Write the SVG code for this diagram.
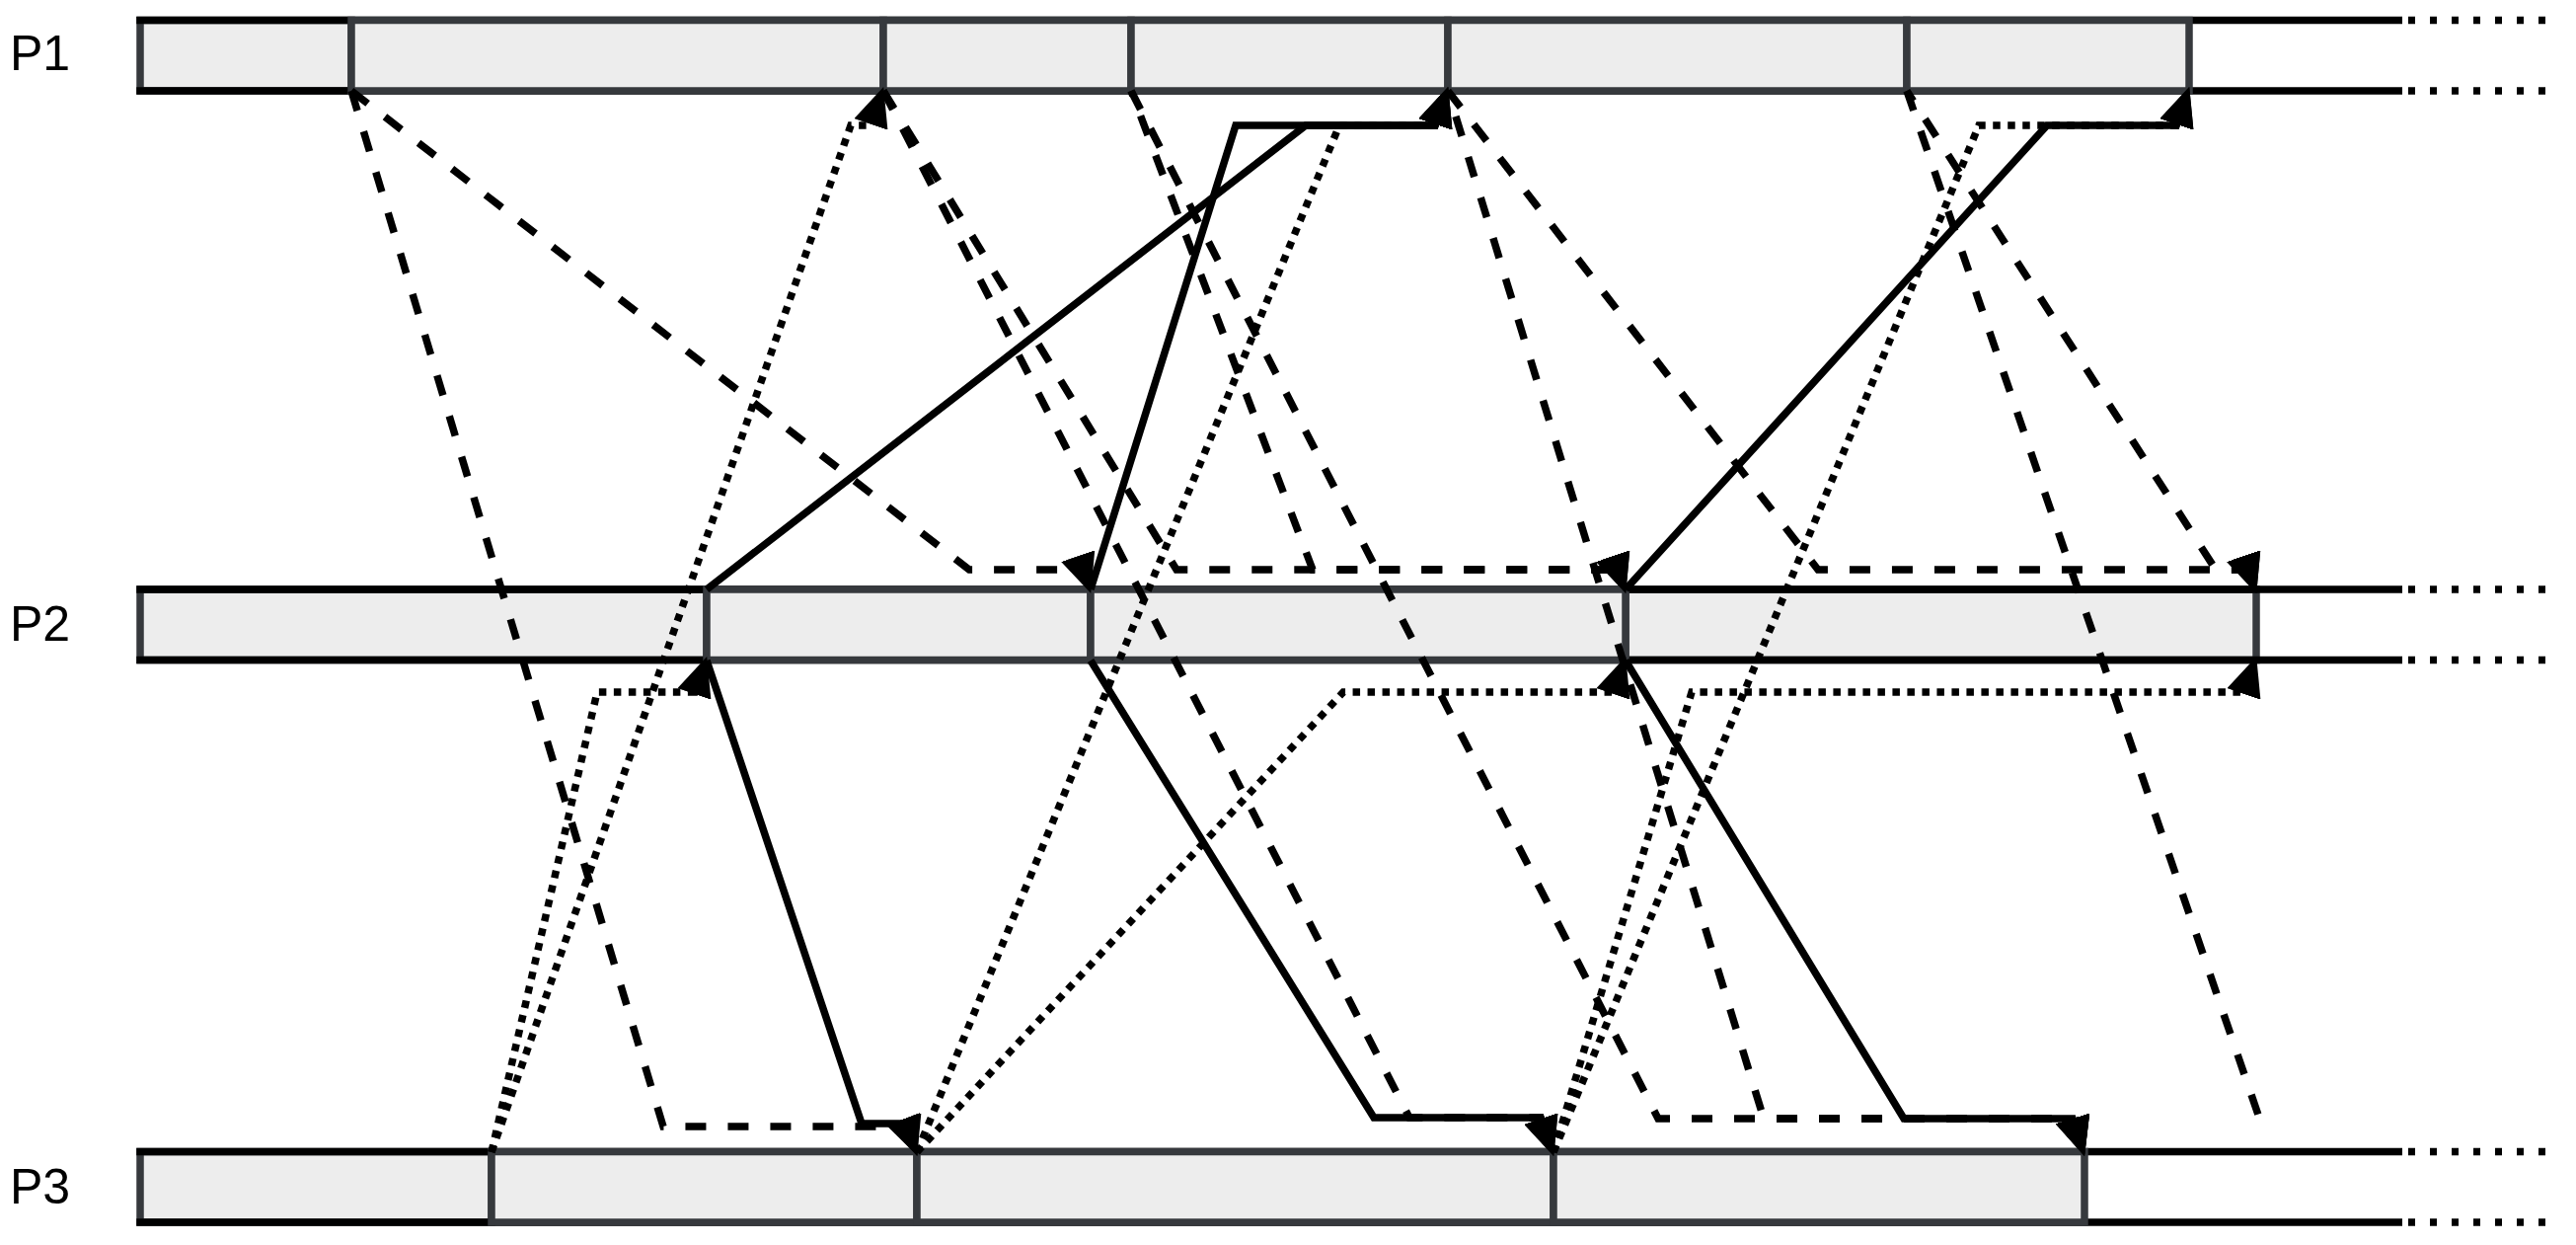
<svg xmlns="http://www.w3.org/2000/svg" width="2610" height="1261" viewBox="0 0 2610 1261">
<defs>
<style>
.lbl{font-family:"Liberation Sans",Arial,Helvetica,sans-serif;font-size:50px;fill:#000}
.box{fill:#ededed;stroke:#36393d;stroke-width:7.5}
.tl{stroke:#000;stroke-width:7.5;fill:none}
.tld{stroke:#000;stroke-width:7.5;stroke-dasharray:7 15;fill:none}
.c{fill:none;stroke:#000;stroke-width:7.5;stroke-linejoin:miter;marker-end:url(#arr)}
.nm{marker-end:none}
.dash{stroke-dasharray:21 22}
.dot{stroke-dasharray:7.5 7.5}
</style>
<marker id="arr" viewBox="0 0 40 36" markerWidth="40" markerHeight="36" refX="30" refY="18" orient="auto" markerUnits="userSpaceOnUse"><path d="M0,0 L40,18 L0,36 Z" fill="#000"/></marker>
</defs>
<rect width="2610" height="1261" fill="#fff"/>
<g id="P1">
<text class="lbl" x="10" y="71">P1</text>
<rect class="box" x="142" y="20.5" width="214" height="71.5"/>
<path class="tl" d="M138.25,20.5H2434M138.25,92H2434"/>
<path class="tld" d="M2440,20.5H2580M2440,92H2580"/>
<rect class="box" x="356" y="20.5" width="539" height="71.5"/>
<rect class="box" x="895" y="20.5" width="251" height="71.5"/>
<rect class="box" x="1146" y="20.5" width="321" height="71.5"/>
<rect class="box" x="1467" y="20.5" width="465" height="71.5"/>
<rect class="box" x="1932" y="20.5" width="286" height="71.5"/>
</g>
<g id="P2">
<text class="lbl" x="10" y="649">P2</text>
<rect class="box" x="142" y="597" width="574" height="71.5"/>
<rect class="box" x="1647" y="597" width="639" height="71.5"/>
<path class="tl" d="M138.25,597H2434M138.25,668.5H2434"/>
<path class="tld" d="M2440,597H2580M2440,668.5H2580"/>
<rect class="box" x="716" y="597" width="389" height="71.5"/>
<rect class="box" x="1105" y="597" width="542" height="71.5"/>
</g>
<g id="P3">
<text class="lbl" x="10" y="1219">P3</text>
<rect class="box" x="142" y="1166.5" width="356" height="71.5"/>
<path class="tl" d="M138.25,1166.5H2434M138.25,1238H2434"/>
<path class="tld" d="M2440,1166.5H2580M2440,1238H2580"/>
<rect class="box" x="498" y="1166.5" width="431" height="71.5"/>
<rect class="box" x="929" y="1166.5" width="645" height="71.5"/>
<rect class="box" x="1574" y="1166.5" width="538" height="71.5"/>
</g>
<g id="connectors">
<path id="d1" class="c dash" d="M356,92 L672,1141 L918,1141 L926,1161.5"/>
<path id="d2" class="c dash" d="M356,92 L982,577 L1097,577 L1102,591.5"/>
<path id="d3" class="c dash" d="M895,92 L1192,577 L1639,577 L1644,591.5"/>
<path id="d4" class="c dash" d="M895,92 L1428,1132 L1561,1132 L1571,1161.5"/>
<path id="d5" class="c dash" style="stroke-dashoffset:16" d="M1146,92 L1330,577 L1639,577 L1644,591.5"/>
<path id="d6" class="c dash" d="M1146,92 L1680,1133 L2100,1133 L2109,1161.5"/>
<path id="d7" class="c dash" d="M1467,92 L1842,577 L2278,577 L2283,591.5"/>
<path id="d8" class="c dash" style="stroke-dashoffset:15.9" d="M1467,92 L1787,1133 L2100,1133 L2109,1161.5"/>
<path id="d9" class="c dash" style="stroke-dashoffset:8.9" d="M1932,92 L2245,577 L2278,577 L2283,591.5"/>
<path id="d10" class="c dash nm" d="M1932,92 L2289,1132"/>
<path id="s1" class="c" d="M716,597 L1323,127 L1454,127 L1464,97.5"/>
<path id="s2" class="c" d="M716,669 L873,1138 L918,1138 L926,1161.5"/>
<path id="s3" class="c" d="M1105,597 L1252,127 L1454,127 L1464,97.5"/>
<path id="s4" class="c" d="M1105,669 L1392,1132 L1561,1132 L1571,1161.5"/>
<path id="s5" class="c" d="M1647,597 L2074,127 L2205,127 L2215,97.5"/>
<path id="s6" class="c" d="M1647,669 L1929,1133 L2100,1133 L2109,1161.5"/>
<path id="t1" class="c dot" d="M498,1167 L862,127 L882,127 L892,97.5"/>
<path id="t2" class="c dot" d="M498,1167 L605,701 L704,701 L713,674.5"/>
<path id="t3" class="c dot" d="M929,1167 L1357,127 L1454,127 L1464,97.5"/>
<path id="t4" class="c dot" d="M929,1167 L1361,701 L1635,701 L1644,674.5"/>
<path id="t5" class="c dot" d="M1574,1167 L2005,127 L2205,127 L2215,97.5"/>
<path id="t6" class="c dot" d="M1574,1167 L1714,701 L2274,701 L2283,674.5"/>
</g>
</svg>
